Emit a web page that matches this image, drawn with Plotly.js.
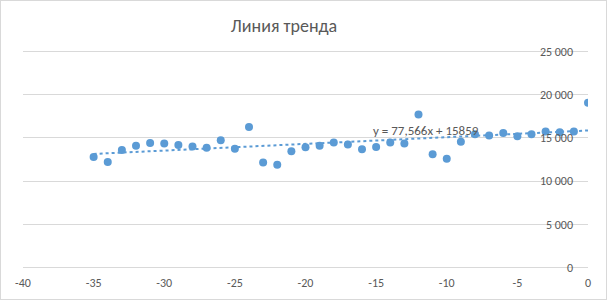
<!DOCTYPE html>
<html>
<head>
<meta charset="utf-8">
<script src="https://cdn.plot.ly/plotly-3.0.1.min.js"></script>
<style>
html,body{margin:0;padding:0;background:#fff;}
#wrap{position:relative;width:607px;height:300px;}
#chart{width:607px;height:300px;}
#frame{position:absolute;left:0;top:0;width:607px;height:300px;box-sizing:border-box;border:1px solid #d9d9d9;pointer-events:none;}
</style>
</head>
<body>
<div id="wrap"><div id="chart"></div><div id="frame"></div></div>
<script>
// Data
const xValues = [-35,-34,-33,-32,-31,-30,-29,-28,-27,-26,-25,-24,-23,-22,-21,-20,-19,-18,-17,-16,-15,-14,-13,-12,-11,-10,-9,-8,-7,-6,-5,-4,-3,-2,-1,0];
const yValues = [12800,12200,13600,14080,14420,14350,14190,14000,13850,14730,13730,16270,12160,11880,13460,13930,14080,14470,14240,13700,13960,14470,14350,17700,13120,12600,14540,15430,15270,15580,15200,15430,15740,15660,15740,19080];
// Trendline coefficients as shown on the chart
const trendSlope = 77.566;
const trendIntercept = 15859;
const trendLabel = "y = 77,566x + 15859";
const chartTitle = "Линия тренда";
const xTicks = [-40,-35,-30,-25,-20,-15,-10,-5,0];
const yTicks = [0,5000,10000,15000,20000,25000];

const xMin = Math.min(...xValues), xMax = Math.max(...xValues);
const trendX = [xMin, xMax];
const trendY = trendX.map(x => trendSlope * x + trendIntercept);

const FONT = "Carlito, Calibri, Lato, 'Liberation Sans', sans-serif";
const data = [
  {x: trendX, y: trendY, type: 'scatter', mode: 'lines',
   line: {color: '#5B9BD5', width: 2, dash: 'dot'}, hoverinfo: 'skip', showlegend: false},
  {x: xValues, y: yValues, type: 'scatter', mode: 'markers',
   marker: {color: '#5B9BD5', size: 8}, showlegend: false}
];
const layout = {
  width: 607, height: 300,
  margin: {l: 23, r: 19, t: 50, b: 31},
  paper_bgcolor: '#fff', plot_bgcolor: '#fff',
  separators: ', ',
  font: {family: FONT, color: '#595959', size: 12},
  title: {text: chartTitle, x: 284/607, xanchor: 'center', y: 0.915, yanchor: 'middle',
          font: {family: FONT, size: 18, color: '#595959'}},
  xaxis: {range: [-40, 0], tickvals: xTicks, ticktext: xTicks.map(String),
          showgrid: false, zeroline: false, showline: false, ticks: '',
          ticklabelstandoff: 5,
          tickfont: {size: 12, color: '#595959'}, fixedrange: true},
  yaxis: {range: [-174, 25174], tickvals: yTicks, tickformat: ',d',
          anchor: 'free', position: 1, side: 'left',
          showgrid: true, gridcolor: '#D9D9D9', gridwidth: 1,
          zeroline: false, showline: false, ticks: '',
          ticklabelstandoff: 15,
          tickfont: {size: 12, color: '#595959'}, fixedrange: true},
  annotations: [{
    x: -11.5, y: 15850, xref: 'x', yref: 'y', text: trendLabel, showarrow: false,
    font: {family: FONT, size: 13, color: '#595959'}
  }]
};
Plotly.newPlot('chart', data, layout, {displayModeBar: false, staticPlot: true});
</script>
</body>
</html>
